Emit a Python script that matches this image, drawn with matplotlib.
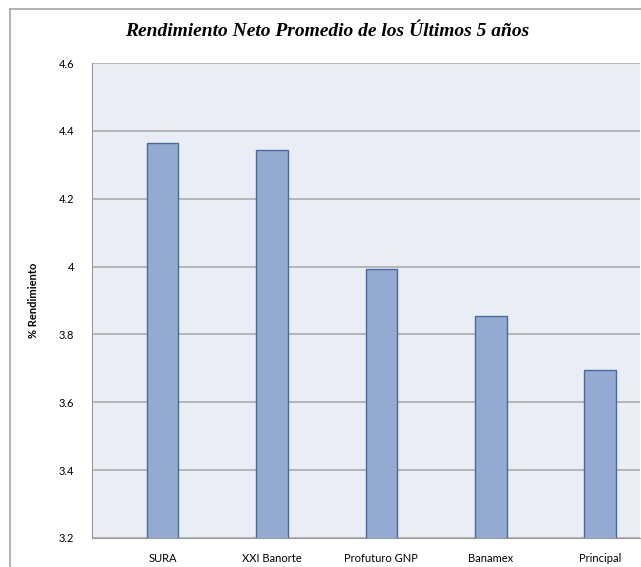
import matplotlib
matplotlib.use("Agg")
import matplotlib.pyplot as plt
from matplotlib.lines import Line2D

# data
afores = ["SURA", "XXI Banorte", "Profuturo GNP", "Banamex", "Principal"]
rendimiento = [4.365, 4.345, 3.994, 3.853, 3.694]
y_ticks = [3.2, 3.4, 3.6, 3.8, 4.0, 4.2, 4.4, 4.6]
y_labels = ["3.2", "3.4", "3.6", "3.8", "4", "4.2", "4.4", "4.6"]

W, H = 641, 567
fig = plt.figure(figsize=(W / 100, H / 100), dpi=100)
fig.patch.set_facecolor("white")

# plot area in pixels: left 92, right 640, top 63, bottom 538
ax = fig.add_axes([92 / W, (H - 538) / H, (640 - 92) / W, (538 - 63) / H])
ax.set_facecolor("#E9EDF5")

x = range(len(afores))
ax.bar(x, rendimiento, width=0.29, bottom=0, color="#95AAD2",
       edgecolor="#4A6A9C", linewidth=1.0, zorder=3)

ax.set_ylim(3.2, 4.6)
ax.set_xlim(-0.645, 4.363)
ax.set_yticks(y_ticks)
ax.set_yticklabels(y_labels, fontfamily="Lato", fontsize=8)
ax.set_xticks(list(x))
ax.set_xticklabels(afores, fontfamily="Lato", fontsize=8)
ax.tick_params(axis="y", length=0, pad=13)
ax.tick_params(axis="x", length=0, pad=11)
ax.yaxis.grid(True, color="#ABABAB", linewidth=1.2, zorder=1)
ax.set_axisbelow(True)

for side in ["top", "right"]:
    ax.spines[side].set_visible(False)
ax.spines["left"].set_color("#9A9A9A")
ax.spines["bottom"].set_color("#9A9A9A")

ax.set_ylabel("% Rendimiento", fontfamily="Lato", fontsize=8, fontweight="bold",
              labelpad=14)

fig.text(327 / W, 1 - 32 / H, "Rendimiento Neto Promedio de los Últimos 5 años",
         ha="center", va="center", fontfamily="Liberation Serif",
         fontsize=14, fontweight="bold", fontstyle="italic")

# outer chart border (left and top only, the rest is cropped)
fig.add_artist(Line2D([10 / W, 10 / W], [0, 1 - 9 / H], transform=fig.transFigure,
                      color="#A6A6A6", linewidth=1.2))
fig.add_artist(Line2D([10 / W, 1], [1 - 9 / H, 1 - 9 / H], transform=fig.transFigure,
                      color="#A6A6A6", linewidth=1.2))

fig.savefig("out.png", dpi=100)
